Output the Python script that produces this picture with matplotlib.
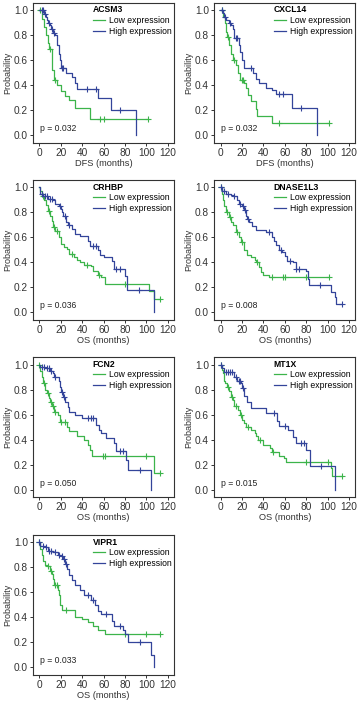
import numpy as np
import matplotlib
matplotlib.use("Agg")
import matplotlib.pyplot as plt

plt.rcParams['font.family'] = ['Liberation Sans', 'DejaVu Sans']

GREEN = '#3cb44a'
BLUE = '#33449a'

genes = ['ACSM3', 'CXCL14', 'CRHBP', 'DNASE1L3', 'FCN2', 'MT1X', 'VIPR1']
pvals = ['0.032', '0.032', '0.036', '0.008', '0.050', '0.015', '0.033']
xlabels = ['DFS (months)', 'DFS (months)', 'OS (months)', 'OS (months)',
           'OS (months)', 'OS (months)', 'OS (months)']

# step times, survival after each step, censor times
acsm3_low_t = [0, 2, 4, 6, 8, 9, 12, 14, 16, 20, 24, 28, 33, 47]
acsm3_low_s = [1, 0.93, 0.87, 0.8, 0.74, 0.69, 0.52, 0.44, 0.4, 0.35, 0.31, 0.28, 0.22, 0.13]
acsm3_low_c = [1, 10, 15, 57, 60, 101]
acsm3_high_t = [0, 4, 6, 7, 8, 10, 11, 13, 15, 16, 18, 19, 20, 25, 30, 33, 35, 55, 67, 90]
acsm3_high_s = [1, 0.97, 0.95, 0.92, 0.9, 0.88, 0.85, 0.82, 0.8, 0.72, 0.65, 0.6, 0.54, 0.5, 0.47, 0.42, 0.37, 0.3, 0.2, 0.0]
acsm3_high_c = [2, 3, 5, 9, 12, 14, 21, 22, 44, 53, 75]

cxcl14_low_t = [0, 2, 4, 5, 6, 8, 10, 12, 14, 16, 18, 22, 24, 26, 28, 33, 34, 48]
cxcl14_low_s = [1, 0.95, 0.9, 0.83, 0.79, 0.72, 0.65, 0.6, 0.56, 0.5, 0.44, 0.42, 0.38, 0.32, 0.27, 0.21, 0.155, 0.1]
cxcl14_low_c = [1, 7, 13, 20, 21, 55, 101]
cxcl14_high_t = [0, 2, 3, 5, 8, 10, 12, 13, 17, 18, 20, 22, 30, 33, 36, 42, 48, 52, 67, 90]
cxcl14_high_s = [1, 0.98, 0.95, 0.92, 0.9, 0.88, 0.85, 0.78, 0.72, 0.665, 0.6, 0.54, 0.5, 0.45, 0.42, 0.38, 0.36, 0.33, 0.22, 0.0]
cxcl14_high_c = [1, 4, 9, 14, 15, 28, 55, 58, 75]

crhbp_low_t = [0, 1, 2, 4, 6, 8, 10, 12, 13, 15, 18, 20, 23, 26, 28, 32, 35, 38, 42, 48, 50, 55, 58, 61, 102, 107]
crhbp_low_s = [1, 0.97, 0.93, 0.9, 0.86, 0.81, 0.77, 0.73, 0.68, 0.65, 0.6, 0.55, 0.52, 0.51, 0.47, 0.44, 0.42, 0.4, 0.38, 0.37, 0.33, 0.3, 0.28, 0.23, 0.17, 0.11]
crhbp_low_c = [3, 9, 14, 16, 30, 44, 56, 80, 113]
crhbp_high_t = [0, 1, 3, 8, 13, 15, 18, 20, 21, 22, 25, 27, 30, 33, 38, 45, 47, 55, 57, 60, 68, 70, 80, 82, 107]
crhbp_high_s = [1, 0.95, 0.93, 0.91, 0.9, 0.87, 0.85, 0.83, 0.8, 0.77, 0.72, 0.7, 0.67, 0.63, 0.61, 0.57, 0.53, 0.5, 0.46, 0.44, 0.41, 0.35, 0.29, 0.18, 0.0]
crhbp_high_c = [2, 5, 7, 10, 12, 19, 24, 28, 50, 53, 72, 75, 93]

dnase_low_t = [0, 1, 2, 3, 5, 8, 10, 12, 14, 17, 19, 22, 25, 28, 32, 33, 36, 38, 40, 45]
dnase_low_s = [1, 0.95, 0.9, 0.85, 0.8, 0.76, 0.72, 0.7, 0.64, 0.6, 0.56, 0.5, 0.46, 0.44, 0.42, 0.4, 0.36, 0.32, 0.3, 0.28]
dnase_low_c = [0, 6, 9, 15, 20, 34, 48, 58, 60, 80, 101]
dnase_high_t = [0, 1, 5, 10, 12, 15, 17, 20, 22, 24, 25, 27, 29, 33, 42, 48, 50, 52, 55, 57, 60, 62, 68, 70, 80, 82, 83, 103, 107, 108]
dnase_high_s = [1, 0.97, 0.95, 0.94, 0.93, 0.9, 0.87, 0.85, 0.82, 0.77, 0.75, 0.72, 0.69, 0.66, 0.64, 0.6, 0.57, 0.54, 0.5, 0.48, 0.45, 0.41, 0.4, 0.35, 0.33, 0.27, 0.22, 0.16, 0.12, 0.07]
dnase_high_c = [0, 3, 7, 13, 18, 21, 23, 26, 45, 56, 65, 70, 73, 93, 113]

fcn2_low_t = [0, 1, 2, 3, 5, 7, 9, 10, 12, 14, 17, 19, 26, 28, 35, 42, 45, 47, 49, 107]
fcn2_low_s = [1, 0.95, 0.9, 0.85, 0.8, 0.77, 0.73, 0.7, 0.67, 0.62, 0.6, 0.54, 0.5, 0.47, 0.43, 0.4, 0.36, 0.32, 0.27, 0.13]
fcn2_low_c = [0, 4, 8, 11, 13, 15, 20, 24, 59, 61, 100, 113]
fcn2_high_t = [0, 1, 5, 10, 13, 14, 18, 19, 20, 22, 24, 27, 28, 33, 40, 53, 56, 58, 62, 70, 72, 81, 83, 104]
fcn2_high_s = [1, 0.98, 0.97, 0.95, 0.93, 0.9, 0.87, 0.82, 0.78, 0.74, 0.7, 0.66, 0.62, 0.6, 0.57, 0.52, 0.48, 0.45, 0.41, 0.37, 0.31, 0.24, 0.16, 0.0]
fcn2_high_c = [2, 4, 7, 9, 11, 15, 21, 23, 45, 48, 50, 75, 78, 94]

mt1x_low_t = [0, 1, 2, 3, 4, 6, 8, 10, 12, 13, 16, 18, 20, 22, 24, 28, 32, 33, 35, 40, 46, 48, 55, 59, 61, 103, 104]
mt1x_low_s = [1, 0.96, 0.93, 0.87, 0.85, 0.82, 0.79, 0.74, 0.72, 0.67, 0.64, 0.6, 0.56, 0.53, 0.5, 0.48, 0.45, 0.43, 0.4, 0.36, 0.33, 0.3, 0.27, 0.25, 0.22, 0.17, 0.11]
mt1x_low_c = [0, 7, 11, 14, 19, 26, 37, 49, 80, 100, 113]
mt1x_high_t = [0, 1, 3, 13, 15, 19, 20, 22, 25, 28, 42, 53, 55, 63, 68, 70, 80, 84, 107]
mt1x_high_s = [1, 0.97, 0.94, 0.9, 0.87, 0.85, 0.81, 0.75, 0.7, 0.65, 0.61, 0.55, 0.51, 0.48, 0.42, 0.37, 0.32, 0.19, 0.0]
mt1x_high_c = [0, 5, 7, 9, 11, 14, 17, 18, 21, 50, 60, 75, 78, 94]

vipr1_low_t = [0, 1, 2, 3, 5, 7, 10, 12, 13, 14, 17, 18, 19, 21, 33, 40, 45, 50, 55, 61]
vipr1_low_s = [1, 0.95, 0.9, 0.85, 0.82, 0.81, 0.77, 0.75, 0.71, 0.66, 0.62, 0.58, 0.5, 0.46, 0.4, 0.39, 0.36, 0.33, 0.3, 0.27]
vipr1_low_c = [0, 8, 11, 15, 16, 25, 80, 100, 113]
vipr1_high_t = [0, 1, 5, 8, 13, 17, 20, 22, 24, 26, 28, 30, 33, 38, 42, 48, 52, 55, 58, 68, 70, 78, 80, 83, 104, 107]
vipr1_high_s = [1, 0.97, 0.96, 0.93, 0.92, 0.9, 0.89, 0.87, 0.83, 0.79, 0.74, 0.7, 0.66, 0.62, 0.58, 0.54, 0.5, 0.45, 0.43, 0.37, 0.33, 0.3, 0.27, 0.2, 0.1, 0.0]
vipr1_high_c = [0, 3, 6, 9, 11, 15, 18, 21, 23, 25, 45, 50, 62, 75, 94]

curves = [
    (acsm3_low_t, acsm3_low_s, acsm3_low_c, acsm3_high_t, acsm3_high_s, acsm3_high_c),
    (cxcl14_low_t, cxcl14_low_s, cxcl14_low_c, cxcl14_high_t, cxcl14_high_s, cxcl14_high_c),
    (crhbp_low_t, crhbp_low_s, crhbp_low_c, crhbp_high_t, crhbp_high_s, crhbp_high_c),
    (dnase_low_t, dnase_low_s, dnase_low_c, dnase_high_t, dnase_high_s, dnase_high_c),
    (fcn2_low_t, fcn2_low_s, fcn2_low_c, fcn2_high_t, fcn2_high_s, fcn2_high_c),
    (mt1x_low_t, mt1x_low_s, mt1x_low_c, mt1x_high_t, mt1x_high_s, mt1x_high_c),
    (vipr1_low_t, vipr1_low_s, vipr1_low_c, vipr1_high_t, vipr1_high_s, vipr1_high_c),
]


def km(ax, t, s, c, color, label):
    t = np.array(t, float)
    s = np.array(s, float)
    end = max(t[-1], max(c))
    tt = np.append(t, end)
    ss = np.append(s, s[-1])
    ax.step(tt, ss, where='post', color=color, lw=0.9, label=label)
    c = np.array(c, float)
    cy = s[np.searchsorted(t, c, side='right') - 1]
    ax.plot(c, cy, ls='none', marker='+', ms=4.5, mew=0.8, color=color)


fig = plt.figure(figsize=(3.58, 7.03), dpi=100)
lefts = [0.092, 0.598]
bottoms = [0.797, 0.545, 0.293, 0.040]
w, h = 0.395, 0.199

for i, gene in enumerate(genes):
    ax = fig.add_axes([lefts[i % 2], bottoms[i // 2], w, h])
    lt, ls_, lc, ht, hs, hc = curves[i]
    km(ax, lt, ls_, lc, GREEN, 'Low expression')
    km(ax, ht, hs, hc, BLUE, 'High expression')
    ax.set_xlim(-6, 126)
    ax.set_ylim(-0.06, 1.06)
    ax.set_xticks(range(0, 121, 20))
    ax.set_yticks(np.arange(0, 1.01, 0.2))
    ax.set_yticklabels(['%.1f' % v for v in np.arange(0, 1.01, 0.2)])
    ax.tick_params(labelsize=7.3, length=2.5, width=0.7, colors='#333333', pad=1.2)
    for sp in ax.spines.values():
        sp.set_linewidth(0.8)
        sp.set_color('#333333')
    ax.set_xlabel(xlabels[i], fontsize=6.7, labelpad=0.5, color='#333333')
    ax.set_ylabel('Probability', fontsize=6.5, labelpad=0.8, color='#333333')
    leg = ax.legend(title=gene, loc='upper right', frameon=False, fontsize=6.2,
                    title_fontproperties={'weight': 'bold', 'size': 6.2},
                    alignment='left', handlelength=1.4, handletextpad=0.5,
                    borderaxespad=0.1, labelspacing=0.2, borderpad=0.2)
    ax.text(0.05, 0.1, 'p = ' + pvals[i], transform=ax.transAxes, fontsize=6.2,
            color='#222222', va='center')

fig.savefig('out.png', dpi=100)
